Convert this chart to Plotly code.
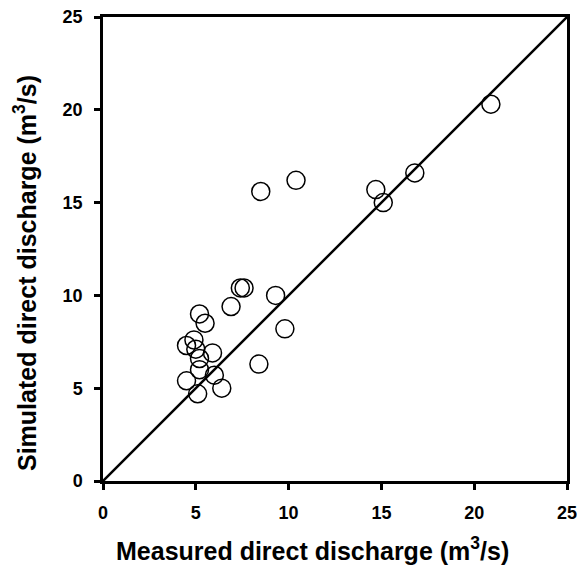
import plotly.graph_objects as go

measured = [20.9, 16.8, 15.1, 14.7, 10.4, 8.5, 7.4, 7.6, 9.3, 6.9, 5.2, 5.5, 9.8,
            4.9, 4.5, 5.0, 5.9, 5.2, 5.2, 8.4, 6.0, 4.5, 6.4, 5.1]
simulated = [20.3, 16.6, 15.0, 15.7, 16.2, 15.6, 10.4, 10.4, 10.0, 9.4, 9.0, 8.5, 8.2,
             7.6, 7.3, 7.1, 6.9, 6.6, 6.0, 6.3, 5.7, 5.4, 5.0, 4.7]
line_x = [0, 25]
line_y = [0, 25]
ticks = [0, 5, 10, 15, 20, 25]
x_title = "Measured direct discharge (m<sup>3</sup>/s)"
y_title = "Simulated direct discharge (m<sup>3</sup>/s)"

fig = go.Figure()
fig.add_trace(go.Scatter(x=line_x, y=line_y, mode="lines",
                         line=dict(color="black", width=2.5), showlegend=False))
fig.add_trace(go.Scatter(x=measured, y=simulated, mode="markers",
                         marker=dict(symbol="circle-open", size=18,
                                     line=dict(color="black", width=1.5), color="black"),
                         showlegend=False))

fam = "Liberation Sans, Arial, sans-serif"
axis_common = dict(range=[0, 25], tickvals=ticks, ticks="outside", ticklen=6, tickwidth=2.5,
                   tickcolor="black", showline=True, linewidth=2.5, linecolor="black",
                   mirror=True, showgrid=False, zeroline=False, automargin=False,
                   ticklabeloverflow="allow", ticklabelposition="outside",
                   tickfont=dict(size=18, family=fam, color="black", weight="bold"))
title_font = dict(size=25, family=fam, color="black", weight="bold")
fig.update_layout(
    width=577, height=559,
    margin=dict(l=95, r=18, t=9, b=86),
    plot_bgcolor="white", paper_bgcolor="white",
    xaxis=dict(ticklabelstandoff=8, **axis_common),
    yaxis=dict(ticklabelstandoff=8, **axis_common),
    annotations=[
        dict(text=x_title, xref="paper", yref="paper", x=0.5, y=0, xshift=-23, yshift=-68,
             xanchor="center", yanchor="middle", showarrow=False, font=title_font),
        dict(text=y_title, xref="paper", yref="paper", x=0, y=0.5, xshift=-78, yshift=-24,
             xanchor="center", yanchor="middle", textangle=-90, showarrow=False,
             font=title_font),
    ],
)
fig.write_html("out.html")
